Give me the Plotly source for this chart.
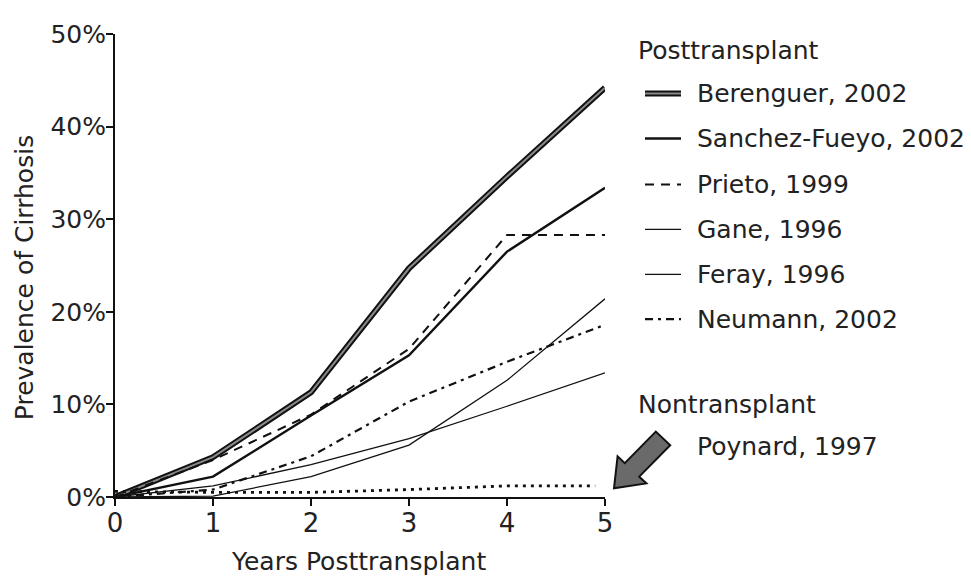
import plotly.graph_objects as go
import math

years = [0, 1, 2, 3, 4, 5]
berenguer = [0, 4.3, 11.3, 24.7, 34.6, 44.2]
sanchez = [0, 2.2, 8.8, 15.3, 26.5, 33.4]
prieto_x = [0, 1, 2, 3, 4, 5]
prieto = [0, 4.0, 8.9, 16.0, 28.3, 28.3]
gane = [0, 1.2, 3.5, 6.3, 9.8, 13.4]
feray = [0, 0.1, 2.2, 5.6, 12.6, 21.4]
neumann = [0, 0.8, 4.4, 10.3, 14.6, 18.6]
poynard_x = [0, 1, 2, 3, 4, 4.9]
poynard = [0.6, 0.5, 0.5, 0.8, 1.2, 1.2]

legend_names = ["Berenguer, 2002", "Sanchez-Fueyo, 2002", "Prieto, 1999",
                "Gane, 1996", "Feray, 1996", "Neumann, 2002"]

FONT = "DejaVu Sans"
FS = 25
TC = "#222222"

# target plot area in window pixels (page body has an 8px margin)
OFF = 8
L, R, T, B = 115, 605, 23, 497
W, H = R - L, B - T
FIG_W, FIG_H = 971 - OFF, 579 - OFF
def px(x):
    return (x - L) / W
def py(y):
    return (B - y) / H

fig = go.Figure()

styles = [
    (berenguer, years, dict(color="#111111", width=6), legend_names[0]),
    (berenguer, years, dict(color="#8a8a8a", width=2), None),
    (sanchez, years, dict(color="#111111", width=2.4), legend_names[1]),
    (prieto, prieto_x, dict(color="#111111", width=2, dash="9px,7px"), legend_names[2]),
    (gane, years, dict(color="#111111", width=1.3), legend_names[3]),
    (feray, years, dict(color="#111111", width=1.3), legend_names[4]),
    (neumann, years, dict(color="#111111", width=2.2, dash="8px,5px,3px,5px"), legend_names[5]),
    (poynard, poynard_x, dict(color="#111111", width=2.8, dash="3px,5px"), "Poynard, 1997"),
]
for yv, xv, line, name in styles:
    fig.add_trace(go.Scatter(x=xv, y=yv, mode="lines", line=line,
                             name=name or "", showlegend=False, hoverinfo="skip"))

annotations = []
shapes = []

def text(x, y, s, **kw):
    annotations.append(dict(x=px(x), y=py(y), xref="paper", yref="paper", text=s,
                            showarrow=False, xanchor="left", yanchor="middle",
                            font=dict(family=FONT, size=FS, color=TC), **kw))

text(636, 40, "Posttransplant")
rows = [84, 130, 177, 223, 269, 315]
sample_lines = [
    [dict(color="#111111", width=6), dict(color="#8a8a8a", width=2)],
    [dict(color="#111111", width=2.4)],
    [dict(color="#111111", width=2, dash="9px,7px")],
    [dict(color="#111111", width=1.3)],
    [dict(color="#111111", width=1.3)],
    [dict(color="#111111", width=2.2, dash="8px,5px,3px,5px")],
]
for name, yy, lines in zip(legend_names, rows, sample_lines):
    text(695, yy, name)
    for ln in lines:
        shapes.append(dict(type="line", xref="paper", yref="paper",
                           x0=px(645), x1=px(681), y0=py(yy), y1=py(yy), line=ln))

text(636, 402, "Nontransplant")
text(695, 445, "Poynard, 1997")

# block arrow pointing to Poynard line
tail = (663, 437)
tip = (614, 488)
dx, dy = tip[0] - tail[0], tip[1] - tail[1]
ln_ = math.hypot(dx, dy)
ux, uy = dx / ln_, dy / ln_
nx, ny = -uy, ux
sw, hw, hl = 10, 20, 26
base = (tip[0] - ux * hl, tip[1] - uy * hl)
pts = [
    (tail[0] + nx * sw, tail[1] + ny * sw),
    (base[0] + nx * sw, base[1] + ny * sw),
    (base[0] + nx * hw, base[1] + ny * hw),
    tip,
    (base[0] - nx * hw, base[1] - ny * hw),
    (base[0] - nx * sw, base[1] - ny * sw),
    (tail[0] - nx * sw, tail[1] - ny * sw),
]
path = "M " + " L ".join(f"{px(a):.5f},{py(b):.5f}" for a, b in pts) + " Z"
shapes.append(dict(type="path", xref="paper", yref="paper", path=path,
                   fillcolor="#6a6a6a", line=dict(color="#111111", width=2)))

# axis titles
annotations.append(dict(x=px(24), y=py(273), xref="paper", yref="paper",
                        text="Prevalence of Cirrhosis", textangle=-90, showarrow=False,
                        xanchor="center", yanchor="middle",
                        font=dict(family=FONT, size=FS, color=TC)))
annotations.append(dict(x=px(358), y=py(563), xref="paper", yref="paper",
                        text="Years Posttransplant", showarrow=False,
                        xanchor="center", yanchor="middle",
                        font=dict(family=FONT, size=FS, color=TC)))

fig.update_layout(
    width=FIG_W, height=FIG_H,
    margin=dict(l=L - OFF, r=FIG_W - (R - OFF), t=T - OFF, b=FIG_H - (B - OFF), pad=0),
    paper_bgcolor="white", plot_bgcolor="white",
    showlegend=False,
    annotations=annotations, shapes=shapes,
    font=dict(family=FONT, size=FS, color=TC),
)
fig.update_xaxes(range=[0, 5], tickvals=[0, 1, 2, 3, 4, 5], ticktext=["0", "1", "2", "3", "4", "5"],
                 showgrid=False, zeroline=False, showline=True, linecolor="#111111", linewidth=2,
                 ticks="outside", ticklen=7, tickwidth=2, tickcolor="#111111",
                 ticklabelstandoff=-5,
                 tickfont=dict(family=FONT, size=26, color=TC))
fig.update_yaxes(range=[0, 50], tickvals=[0, 10, 20, 30, 40, 50],
                 ticktext=["0%", "10%", "20%", "30%", "40%", "50%"],
                 showgrid=False, zeroline=False, showline=True, linecolor="#111111", linewidth=2,
                 ticks="outside", ticklen=7, tickwidth=2, tickcolor="#111111",
                 ticklabelstandoff=-5,
                 tickfont=dict(family=FONT, size=25, color=TC))

fig.write_html("out.html")
